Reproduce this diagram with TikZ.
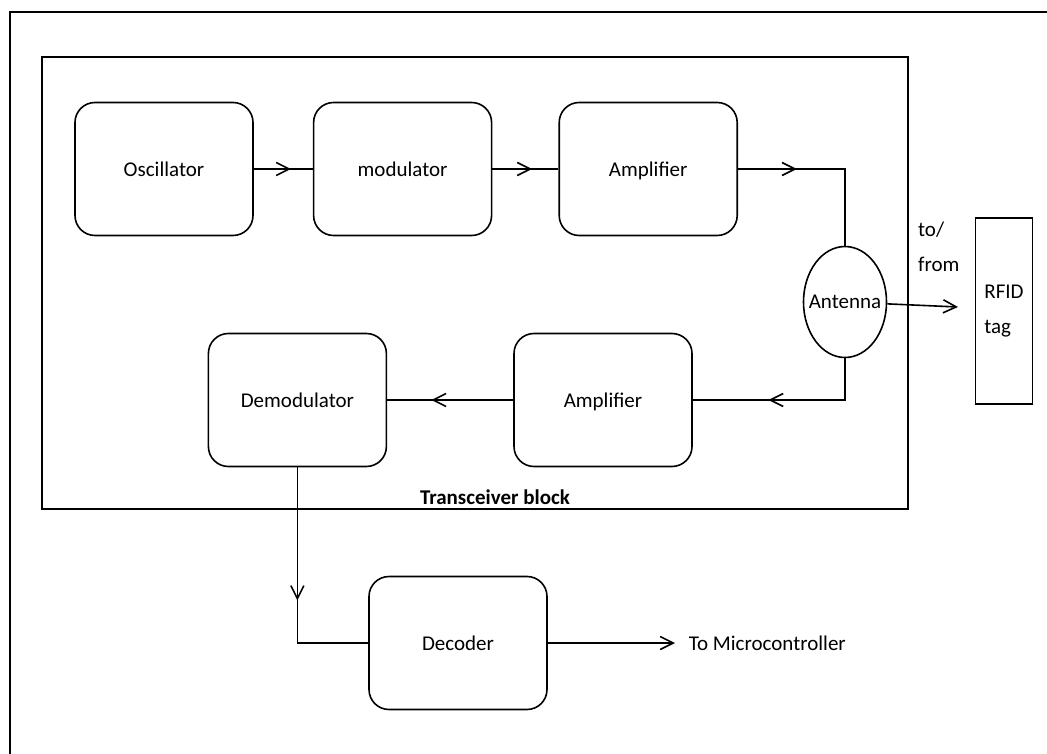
\documentclass[tikz,border=0pt]{standalone}
\usepackage{fontspec}
\setmainfont{Carlito}
\usetikzlibrary{arrows.meta,positioning,shapes.geometric,decorations.markings}
\tikzset{block node/.style={rectangle,rounded corners=20pt,draw,minimum width=178pt,minimum height=133pt,inner sep=0pt,text depth=0pt},
         mid arrow/.style={postaction={decorate},decoration={markings,mark=at position #1 with {\arrow{Straight Barb[length=13pt,width=13pt]}}}},
            }

\begin{document}
\begin{tikzpicture}[x=1pt,y=-1pt,line width=1.6pt,font=\fontsize{21}{35}\selectfont,>={Straight Barb[length=13pt,width=13pt]}]
    \useasboundingbox (0,0) rectangle (1047,754);
    \draw (1047,12) -- (10,12) -- (10,754);
    \draw (42,57) rectangle (908,509);

    \node[block node] (osc) at (164,169) {Oscillator};
    \node[block node] (mod) [right=59pt of osc] {modulator};
    \node[block node] (amp) [right=66pt of mod] {Amplifier};
    \node[ellipse,draw,minimum width=83pt,minimum height=111pt,label=center:Antenna] (ant) at (845,302) {};
    \node[draw,rectangle,minimum width=57pt,minimum height=186pt,align=left] (tag) at (1004,311) {RFID\\tag};
    \node[align=left,anchor=west] (tofrom) at (914,247) {to/\\from};
    \node[block node] (amprx) at (603,400) {Amplifier};
    \node[block node] (demod) [left=126pt of amprx] {Demodulator};
    \node[font=\bfseries\fontsize{21}{25}\selectfont,anchor=base] (trx) at (495,504) {Transceiver block};
    \node[block node] (dec) at (458,643) {Decoder};
    \coordinate (tagin) at (958,307);
    \coordinate (mcuin) at (675,643);
    \node[right=13pt of mcuin,inner sep=0pt] (mcu) {To Microcontroller};

    \draw[mid arrow=0.63] (osc) -- (mod);
    \draw[mid arrow=0.6] (mod) -- (amp);
    \draw[mid arrow=0.32] (amp) -| (ant);
    \draw[->] (ant) -- (tagin);
    \draw[mid arrow=0.61] (ant) |- (amprx);
    \draw[mid arrow=0.65] (amprx) -- (demod);
    \draw[mid arrow=0.54] (demod) |- (dec);
    \draw[->] (dec) -- (mcuin);
  \end{tikzpicture}
\end{document}
